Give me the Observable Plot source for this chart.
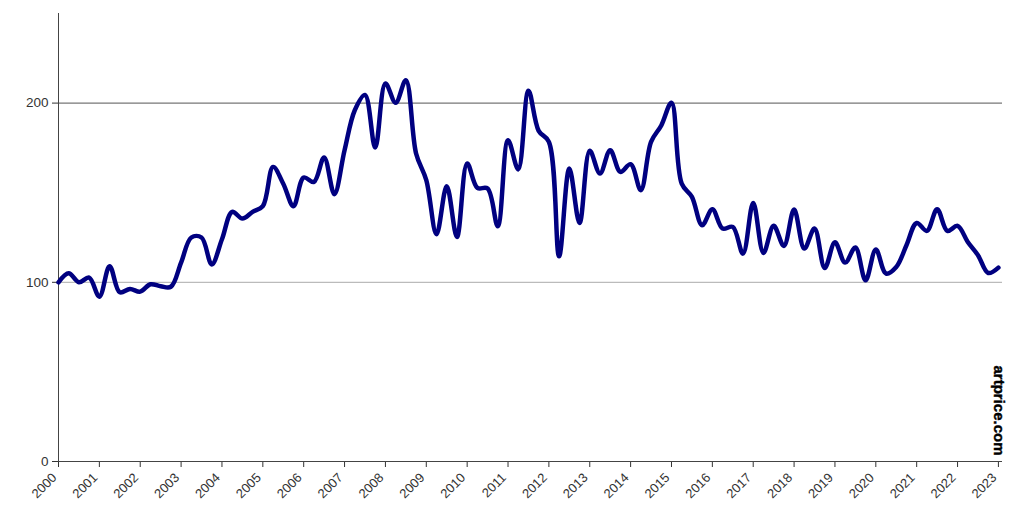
<!DOCTYPE html>
<html><head><meta charset="utf-8">
<script src="https://cdn.jsdelivr.net/npm/d3@7"></script>
<script src="https://cdn.jsdelivr.net/npm/@observablehq/plot@0.6"></script>
<style>body{margin:0;background:#fff;} #chart{width:1024px;height:514px}</style>
</head><body><div id="chart"></div>
<script>
// Year tick labels
const years = [2000,2001,2002,2003,2004,2005,2006,2007,2008,2009,2010,2011,2012,2013,2014,2015,2016,2017,2018,2019,2020,2021,2022,2023];
// Quarterly index values, 2000 Q1 .. 2023 Q1
const quarterValues = [
  100, 105, 100, 102.6,
  92, 109, 94.4, 96.3,
  94.8, 98.9, 97.8, 97.5,
  111, 125, 125, 110,
  124, 139.3, 135.6, 139.3,
  142.5, 164.4, 155, 142.5,
  158.5, 156, 169.7, 149.2,
  173.7, 196, 204.5, 175.2,
  211, 200.2, 212.8, 171.9,
  157, 126.8, 153.6, 125.3,
  166.3, 152.7, 152.3, 131.3,
  179.3, 163, 206.9, 184.5,
  178.4, 114.5, 163.5, 133.1,
  173.4, 160.7, 173.7, 161.6,
  165.9, 151.4, 178.4, 187.5,
  200.2, 155.1, 147.7, 131.8,
  140.8, 130, 130.9, 116,
  144.3, 116.4, 131.5, 120.3,
  140.6, 118.8, 130, 108,
  122.3, 111, 119.4, 101.1,
  118.3, 104.9, 108.5, 120.7,
  133.1, 128.7, 140.8, 128.7,
  131.5, 122.5, 115.1, 105.2,
  108.2
];
const yTicks = [0, 100, 200];
const watermark = "artprice.com";

const data = quarterValues.map((v, i) => ({t: years[0] + i / 4, v}));

const chart = Plot.plot({
  width: 1024, height: 514,
  marginLeft: 58, marginRight: 22, marginTop: 13, marginBottom: 53,
  style: {fontFamily: "'Liberation Sans', Arial, sans-serif", fontSize: "13px", color: "#333", background: "#fff"},
  x: {type: "linear", domain: [2000, 2023.1]},
  y: {domain: [0, 250]},
  marks: [
    Plot.ruleY([200], {stroke: "#555", strokeWidth: 1}),
    Plot.ruleY([100], {stroke: "#aaa", strokeWidth: 1}),
    Plot.axisY({ticks: yTicks, tickSize: 6, tickPadding: 4, label: null, fontSize: 13.5}),
    // tick marks only
    Plot.axisX({ticks: years, tickFormat: () => "", tickSize: 6, label: null}),
    // labels only, nudged down-left
    Plot.axisX({ticks: years, tickFormat: d => String(d), tickRotate: -45, tickSize: 0, tickPadding: 9, dx: -4, dy: 5, label: null, fontSize: 13}),
    Plot.ruleX([2000], {stroke: "#444"}),
    Plot.ruleY([0], {stroke: "#444"}),
    Plot.line(data, {x: "t", y: "v", curve: "catmull-rom", stroke: "#000080", strokeWidth: 4.5, strokeLinejoin: "round", strokeLinecap: "round"}),
    Plot.text([watermark], {frameAnchor: "bottom-right", rotate: 90, textAnchor: "end", dx: -9, dy: -6, fontWeight: "bold", fontSize: 15, fill: "#000", stroke: "#000", strokeWidth: 0.4})
  ]
});
document.getElementById("chart").appendChild(chart);
</script>
</body></html>
